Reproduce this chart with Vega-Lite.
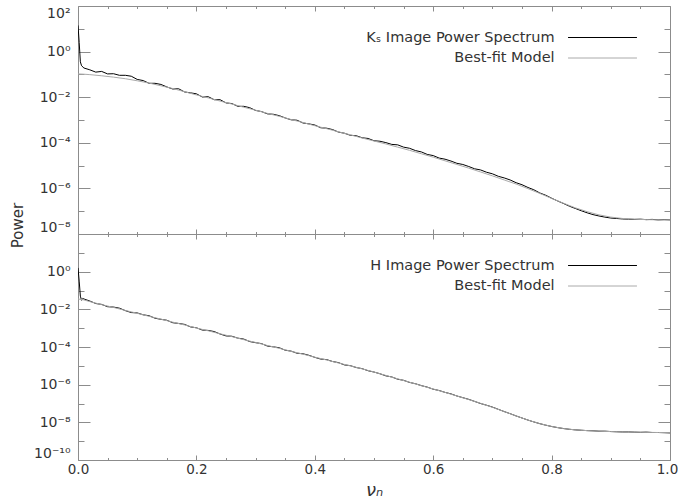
{
  "$schema": "https://vega.github.io/schema/vega-lite/v6.json",
  "padding": {"left": 9, "top": 5, "right": 0, "bottom": 0},
  "spacing": 0,
  "bounds": "flush",
  "config": {
    "font": "DejaVu Sans",
    "view": {"stroke": "#8c8c8c", "strokeWidth": 1},
    "axis": {"domain": false, "grid": false, "tickColor": "#8c8c8c", "tickWidth": 1, "labelColor": "#333333", "labelFontSize": 14, "titleFontWeight": "normal", "titleColor": "#333333", "titleFontSize": 15},
    "legend": {"labelColor": "#333333", "labelFontSize": 14.5, "labelLimit": 0, "padding": 0}
  },
  "datasets": {
    "top": [
      {"series": "Kₛ Image Power Spectrum", "v": 0, "p": 14.1},
      {"series": "Kₛ Image Power Spectrum", "v": 0.002, "p": 2.51},
      {"series": "Kₛ Image Power Spectrum", "v": 0.004, "p": 0.355},
      {"series": "Kₛ Image Power Spectrum", "v": 0.006, "p": 0.24},
      {"series": "Kₛ Image Power Spectrum", "v": 0.01, "p": 0.191},
      {"series": "Kₛ Image Power Spectrum", "v": 0.02, "p": 0.1585},
      {"series": "Kₛ Image Power Spectrum", "v": 0.03, "p": 0.126},
      {"series": "Kₛ Image Power Spectrum", "v": 0.04, "p": 0.135},
      {"series": "Kₛ Image Power Spectrum", "v": 0.05, "p": 0.105},
      {"series": "Kₛ Image Power Spectrum", "v": 0.06, "p": 0.107},
      {"series": "Kₛ Image Power Spectrum", "v": 0.07, "p": 0.0912},
      {"series": "Kₛ Image Power Spectrum", "v": 0.08, "p": 0.0912},
      {"series": "Kₛ Image Power Spectrum", "v": 0.09, "p": 0.0832},
      {"series": "Kₛ Image Power Spectrum", "v": 0.10, "p": 0.0603},
      {"series": "Kₛ Image Power Spectrum", "v": 0.11, "p": 0.0537},
      {"series": "Kₛ Image Power Spectrum", "v": 0.12, "p": 0.0407},
      {"series": "Kₛ Image Power Spectrum", "v": 0.13, "p": 0.0407},
      {"series": "Kₛ Image Power Spectrum", "v": 0.14, "p": 0.0363},
      {"series": "Kₛ Image Power Spectrum", "v": 0.15, "p": 0.0282},
      {"series": "Kₛ Image Power Spectrum", "v": 0.16, "p": 0.0229},
      {"series": "Kₛ Image Power Spectrum", "v": 0.17, "p": 0.0234},
      {"series": "Kₛ Image Power Spectrum", "v": 0.18, "p": 0.0170},
      {"series": "Kₛ Image Power Spectrum", "v": 0.19, "p": 0.0155},
      {"series": "Kₛ Image Power Spectrum", "v": 0.20, "p": 0.0141},
      {"series": "Kₛ Image Power Spectrum", "v": 0.21, "p": 0.0102},
      {"series": "Kₛ Image Power Spectrum", "v": 0.22, "p": 0.0105},
      {"series": "Kₛ Image Power Spectrum", "v": 0.23, "p": 0.00776},
      {"series": "Kₛ Image Power Spectrum", "v": 0.24, "p": 0.00776},
      {"series": "Kₛ Image Power Spectrum", "v": 0.25, "p": 0.00562},
      {"series": "Kₛ Image Power Spectrum", "v": 0.26, "p": 0.00525},
      {"series": "Kₛ Image Power Spectrum", "v": 0.27, "p": 0.00398},
      {"series": "Kₛ Image Power Spectrum", "v": 0.28, "p": 0.00398},
      {"series": "Kₛ Image Power Spectrum", "v": 0.29, "p": 0.00347},
      {"series": "Kₛ Image Power Spectrum", "v": 0.30, "p": 0.00263},
      {"series": "Kₛ Image Power Spectrum", "v": 0.31, "p": 0.00234},
      {"series": "Kₛ Image Power Spectrum", "v": 0.32, "p": 0.00186},
      {"series": "Kₛ Image Power Spectrum", "v": 0.33, "p": 0.00178},
      {"series": "Kₛ Image Power Spectrum", "v": 0.34, "p": 0.00155},
      {"series": "Kₛ Image Power Spectrum", "v": 0.35, "p": 0.00123},
      {"series": "Kₛ Image Power Spectrum", "v": 0.36, "p": 0.00102},
      {"series": "Kₛ Image Power Spectrum", "v": 0.37, "p": 9.77e-4},
      {"series": "Kₛ Image Power Spectrum", "v": 0.38, "p": 7.41e-4},
      {"series": "Kₛ Image Power Spectrum", "v": 0.39, "p": 6.76e-4},
      {"series": "Kₛ Image Power Spectrum", "v": 0.40, "p": 6.03e-4},
      {"series": "Kₛ Image Power Spectrum", "v": 0.41, "p": 4.57e-4},
      {"series": "Kₛ Image Power Spectrum", "v": 0.42, "p": 4.37e-4},
      {"series": "Kₛ Image Power Spectrum", "v": 0.43, "p": 3.80e-4},
      {"series": "Kₛ Image Power Spectrum", "v": 0.44, "p": 2.95e-4},
      {"series": "Kₛ Image Power Spectrum", "v": 0.45, "p": 2.63e-4},
      {"series": "Kₛ Image Power Spectrum", "v": 0.46, "p": 2.14e-4},
      {"series": "Kₛ Image Power Spectrum", "v": 0.47, "p": 2.04e-4},
      {"series": "Kₛ Image Power Spectrum", "v": 0.48, "p": 1.66e-4},
      {"series": "Kₛ Image Power Spectrum", "v": 0.49, "p": 1.55e-4},
      {"series": "Kₛ Image Power Spectrum", "v": 0.50, "p": 1.23e-4},
      {"series": "Kₛ Image Power Spectrum", "v": 0.51, "p": 1.17e-4},
      {"series": "Kₛ Image Power Spectrum", "v": 0.52, "p": 1.02e-4},
      {"series": "Kₛ Image Power Spectrum", "v": 0.53, "p": 8.51e-5},
      {"series": "Kₛ Image Power Spectrum", "v": 0.54, "p": 8.13e-5},
      {"series": "Kₛ Image Power Spectrum", "v": 0.55, "p": 6.46e-5},
      {"series": "Kₛ Image Power Spectrum", "v": 0.56, "p": 5.75e-5},
      {"series": "Kₛ Image Power Spectrum", "v": 0.57, "p": 4.57e-5},
      {"series": "Kₛ Image Power Spectrum", "v": 0.58, "p": 3.98e-5},
      {"series": "Kₛ Image Power Spectrum", "v": 0.59, "p": 3.09e-5},
      {"series": "Kₛ Image Power Spectrum", "v": 0.60, "p": 2.75e-5},
      {"series": "Kₛ Image Power Spectrum", "v": 0.61, "p": 2.14e-5},
      {"series": "Kₛ Image Power Spectrum", "v": 0.62, "p": 1.91e-5},
      {"series": "Kₛ Image Power Spectrum", "v": 0.63, "p": 1.585e-5},
      {"series": "Kₛ Image Power Spectrum", "v": 0.64, "p": 1.26e-5},
      {"series": "Kₛ Image Power Spectrum", "v": 0.65, "p": 1.12e-5},
      {"series": "Kₛ Image Power Spectrum", "v": 0.66, "p": 9.12e-6},
      {"series": "Kₛ Image Power Spectrum", "v": 0.67, "p": 7.24e-6},
      {"series": "Kₛ Image Power Spectrum", "v": 0.68, "p": 6.46e-6},
      {"series": "Kₛ Image Power Spectrum", "v": 0.69, "p": 5.13e-6},
      {"series": "Kₛ Image Power Spectrum", "v": 0.70, "p": 4.37e-6},
      {"series": "Kₛ Image Power Spectrum", "v": 0.71, "p": 3.39e-6},
      {"series": "Kₛ Image Power Spectrum", "v": 0.72, "p": 2.88e-6},
      {"series": "Kₛ Image Power Spectrum", "v": 0.73, "p": 2.34e-6},
      {"series": "Kₛ Image Power Spectrum", "v": 0.74, "p": 1.78e-6},
      {"series": "Kₛ Image Power Spectrum", "v": 0.75, "p": 1.45e-6},
      {"series": "Kₛ Image Power Spectrum", "v": 0.76, "p": 1.10e-6},
      {"series": "Kₛ Image Power Spectrum", "v": 0.77, "p": 8.71e-7},
      {"series": "Kₛ Image Power Spectrum", "v": 0.78, "p": 6.31e-7},
      {"series": "Kₛ Image Power Spectrum", "v": 0.79, "p": 5.01e-7},
      {"series": "Kₛ Image Power Spectrum", "v": 0.80, "p": 3.72e-7},
      {"series": "Kₛ Image Power Spectrum", "v": 0.81, "p": 2.82e-7},
      {"series": "Kₛ Image Power Spectrum", "v": 0.82, "p": 2.19e-7},
      {"series": "Kₛ Image Power Spectrum", "v": 0.83, "p": 1.66e-7},
      {"series": "Kₛ Image Power Spectrum", "v": 0.84, "p": 1.32e-7},
      {"series": "Kₛ Image Power Spectrum", "v": 0.85, "p": 1.05e-7},
      {"series": "Kₛ Image Power Spectrum", "v": 0.86, "p": 8.51e-8},
      {"series": "Kₛ Image Power Spectrum", "v": 0.87, "p": 7.08e-8},
      {"series": "Kₛ Image Power Spectrum", "v": 0.88, "p": 6.17e-8},
      {"series": "Kₛ Image Power Spectrum", "v": 0.89, "p": 5.50e-8},
      {"series": "Kₛ Image Power Spectrum", "v": 0.90, "p": 5.01e-8},
      {"series": "Kₛ Image Power Spectrum", "v": 0.91, "p": 4.79e-8},
      {"series": "Kₛ Image Power Spectrum", "v": 0.92, "p": 4.57e-8},
      {"series": "Kₛ Image Power Spectrum", "v": 0.93, "p": 4.47e-8},
      {"series": "Kₛ Image Power Spectrum", "v": 0.94, "p": 4.37e-8},
      {"series": "Kₛ Image Power Spectrum", "v": 0.95, "p": 4.47e-8},
      {"series": "Kₛ Image Power Spectrum", "v": 0.96, "p": 4.27e-8},
      {"series": "Kₛ Image Power Spectrum", "v": 0.97, "p": 4.37e-8},
      {"series": "Kₛ Image Power Spectrum", "v": 0.98, "p": 4.17e-8},
      {"series": "Kₛ Image Power Spectrum", "v": 0.99, "p": 4.27e-8},
      {"series": "Kₛ Image Power Spectrum", "v": 1.00, "p": 4.17e-8},
      {"series": "Best-fit Model", "v": 0, "p": 0.105},
      {"series": "Best-fit Model", "v": 0.01, "p": 0.102},
      {"series": "Best-fit Model", "v": 0.02, "p": 0.0977},
      {"series": "Best-fit Model", "v": 0.04, "p": 0.0871},
      {"series": "Best-fit Model", "v": 0.06, "p": 0.0759},
      {"series": "Best-fit Model", "v": 0.08, "p": 0.0646},
      {"series": "Best-fit Model", "v": 0.10, "p": 0.0525},
      {"series": "Best-fit Model", "v": 0.12, "p": 0.0417},
      {"series": "Best-fit Model", "v": 0.14, "p": 0.0316},
      {"series": "Best-fit Model", "v": 0.16, "p": 0.0240},
      {"series": "Best-fit Model", "v": 0.18, "p": 0.0174},
      {"series": "Best-fit Model", "v": 0.20, "p": 0.0126},
      {"series": "Best-fit Model", "v": 0.22, "p": 0.00933},
      {"series": "Best-fit Model", "v": 0.24, "p": 0.00676},
      {"series": "Best-fit Model", "v": 0.26, "p": 0.00501},
      {"series": "Best-fit Model", "v": 0.28, "p": 0.00363},
      {"series": "Best-fit Model", "v": 0.30, "p": 0.00269},
      {"series": "Best-fit Model", "v": 0.32, "p": 0.00195},
      {"series": "Best-fit Model", "v": 0.34, "p": 0.00145},
      {"series": "Best-fit Model", "v": 0.36, "p": 0.00105},
      {"series": "Best-fit Model", "v": 0.38, "p": 7.76e-4},
      {"series": "Best-fit Model", "v": 0.40, "p": 5.62e-4},
      {"series": "Best-fit Model", "v": 0.42, "p": 4.17e-4},
      {"series": "Best-fit Model", "v": 0.44, "p": 3.02e-4},
      {"series": "Best-fit Model", "v": 0.46, "p": 2.24e-4},
      {"series": "Best-fit Model", "v": 0.48, "p": 1.62e-4},
      {"series": "Best-fit Model", "v": 0.50, "p": 1.20e-4},
      {"series": "Best-fit Model", "v": 0.52, "p": 8.91e-5},
      {"series": "Best-fit Model", "v": 0.54, "p": 6.46e-5},
      {"series": "Best-fit Model", "v": 0.56, "p": 4.68e-5},
      {"series": "Best-fit Model", "v": 0.58, "p": 3.31e-5},
      {"series": "Best-fit Model", "v": 0.60, "p": 2.34e-5},
      {"series": "Best-fit Model", "v": 0.62, "p": 1.62e-5},
      {"series": "Best-fit Model", "v": 0.64, "p": 1.12e-5},
      {"series": "Best-fit Model", "v": 0.66, "p": 7.76e-6},
      {"series": "Best-fit Model", "v": 0.68, "p": 5.25e-6},
      {"series": "Best-fit Model", "v": 0.70, "p": 3.55e-6},
      {"series": "Best-fit Model", "v": 0.72, "p": 2.34e-6},
      {"series": "Best-fit Model", "v": 0.74, "p": 1.55e-6},
      {"series": "Best-fit Model", "v": 0.76, "p": 9.77e-7},
      {"series": "Best-fit Model", "v": 0.78, "p": 6.03e-7},
      {"series": "Best-fit Model", "v": 0.80, "p": 3.63e-7},
      {"series": "Best-fit Model", "v": 0.82, "p": 2.24e-7},
      {"series": "Best-fit Model", "v": 0.84, "p": 1.41e-7},
      {"series": "Best-fit Model", "v": 0.86, "p": 9.55e-8},
      {"series": "Best-fit Model", "v": 0.88, "p": 6.92e-8},
      {"series": "Best-fit Model", "v": 0.90, "p": 5.50e-8},
      {"series": "Best-fit Model", "v": 0.92, "p": 4.79e-8},
      {"series": "Best-fit Model", "v": 0.94, "p": 4.47e-8},
      {"series": "Best-fit Model", "v": 0.96, "p": 4.27e-8},
      {"series": "Best-fit Model", "v": 0.98, "p": 4.17e-8},
      {"series": "Best-fit Model", "v": 1.00, "p": 4.17e-8}
    ],
    "bottom": [
      {"series": "H Image Power Spectrum", "v": 0, "p": 1.585},
      {"series": "H Image Power Spectrum", "v": 0.002, "p": 0.316},
      {"series": "H Image Power Spectrum", "v": 0.004, "p": 0.0501},
      {"series": "H Image Power Spectrum", "v": 0.006, "p": 0.0302},
      {"series": "H Image Power Spectrum", "v": 0.008, "p": 0.0380},
      {"series": "H Image Power Spectrum", "v": 0.01, "p": 0.0355},
      {"series": "H Image Power Spectrum", "v": 0.02, "p": 0.0275},
      {"series": "H Image Power Spectrum", "v": 0.03, "p": 0.0204},
      {"series": "H Image Power Spectrum", "v": 0.04, "p": 0.0182},
      {"series": "H Image Power Spectrum", "v": 0.05, "p": 0.0138},
      {"series": "H Image Power Spectrum", "v": 0.06, "p": 0.0132},
      {"series": "H Image Power Spectrum", "v": 0.07, "p": 0.0115},
      {"series": "H Image Power Spectrum", "v": 0.08, "p": 0.00851},
      {"series": "H Image Power Spectrum", "v": 0.09, "p": 0.00676},
      {"series": "H Image Power Spectrum", "v": 0.10, "p": 0.00646},
      {"series": "H Image Power Spectrum", "v": 0.11, "p": 0.00513},
      {"series": "H Image Power Spectrum", "v": 0.12, "p": 0.00457},
      {"series": "H Image Power Spectrum", "v": 0.13, "p": 0.00339},
      {"series": "H Image Power Spectrum", "v": 0.14, "p": 0.00295},
      {"series": "H Image Power Spectrum", "v": 0.15, "p": 0.00263},
      {"series": "H Image Power Spectrum", "v": 0.16, "p": 0.00195},
      {"series": "H Image Power Spectrum", "v": 0.17, "p": 0.00178},
      {"series": "H Image Power Spectrum", "v": 0.18, "p": 0.001585},
      {"series": "H Image Power Spectrum", "v": 0.19, "p": 0.00117},
      {"series": "H Image Power Spectrum", "v": 0.20, "p": 0.00105},
      {"series": "H Image Power Spectrum", "v": 0.21, "p": 7.94e-4},
      {"series": "H Image Power Spectrum", "v": 0.22, "p": 7.59e-4},
      {"series": "H Image Power Spectrum", "v": 0.23, "p": 6.61e-4},
      {"series": "H Image Power Spectrum", "v": 0.24, "p": 4.90e-4},
      {"series": "H Image Power Spectrum", "v": 0.25, "p": 3.89e-4},
      {"series": "H Image Power Spectrum", "v": 0.26, "p": 3.72e-4},
      {"series": "H Image Power Spectrum", "v": 0.27, "p": 2.95e-4},
      {"series": "H Image Power Spectrum", "v": 0.28, "p": 2.63e-4},
      {"series": "H Image Power Spectrum", "v": 0.29, "p": 1.95e-4},
      {"series": "H Image Power Spectrum", "v": 0.30, "p": 1.70e-4},
      {"series": "H Image Power Spectrum", "v": 0.31, "p": 1.51e-4},
      {"series": "H Image Power Spectrum", "v": 0.32, "p": 1.12e-4},
      {"series": "H Image Power Spectrum", "v": 0.33, "p": 1.02e-4},
      {"series": "H Image Power Spectrum", "v": 0.34, "p": 9.12e-5},
      {"series": "H Image Power Spectrum", "v": 0.35, "p": 6.76e-5},
      {"series": "H Image Power Spectrum", "v": 0.36, "p": 6.03e-5},
      {"series": "H Image Power Spectrum", "v": 0.37, "p": 4.68e-5},
      {"series": "H Image Power Spectrum", "v": 0.38, "p": 4.37e-5},
      {"series": "H Image Power Spectrum", "v": 0.39, "p": 3.63e-5},
      {"series": "H Image Power Spectrum", "v": 0.40, "p": 2.82e-5},
      {"series": "H Image Power Spectrum", "v": 0.41, "p": 2.29e-5},
      {"series": "H Image Power Spectrum", "v": 0.42, "p": 2.14e-5},
      {"series": "H Image Power Spectrum", "v": 0.43, "p": 1.70e-5},
      {"series": "H Image Power Spectrum", "v": 0.44, "p": 1.48e-5},
      {"series": "H Image Power Spectrum", "v": 0.45, "p": 1.12e-5},
      {"series": "H Image Power Spectrum", "v": 0.46, "p": 1.02e-5},
      {"series": "H Image Power Spectrum", "v": 0.47, "p": 8.13e-6},
      {"series": "H Image Power Spectrum", "v": 0.48, "p": 7.08e-6},
      {"series": "H Image Power Spectrum", "v": 0.49, "p": 5.50e-6},
      {"series": "H Image Power Spectrum", "v": 0.50, "p": 4.68e-6},
      {"series": "H Image Power Spectrum", "v": 0.51, "p": 3.80e-6},
      {"series": "H Image Power Spectrum", "v": 0.52, "p": 2.95e-6},
      {"series": "H Image Power Spectrum", "v": 0.53, "p": 2.57e-6},
      {"series": "H Image Power Spectrum", "v": 0.54, "p": 1.95e-6},
      {"series": "H Image Power Spectrum", "v": 0.55, "p": 1.70e-6},
      {"series": "H Image Power Spectrum", "v": 0.56, "p": 1.32e-6},
      {"series": "H Image Power Spectrum", "v": 0.57, "p": 1.12e-6},
      {"series": "H Image Power Spectrum", "v": 0.58, "p": 8.91e-7},
      {"series": "H Image Power Spectrum", "v": 0.59, "p": 7.41e-7},
      {"series": "H Image Power Spectrum", "v": 0.60, "p": 5.75e-7},
      {"series": "H Image Power Spectrum", "v": 0.61, "p": 4.90e-7},
      {"series": "H Image Power Spectrum", "v": 0.62, "p": 3.89e-7},
      {"series": "H Image Power Spectrum", "v": 0.63, "p": 3.24e-7},
      {"series": "H Image Power Spectrum", "v": 0.64, "p": 2.51e-7},
      {"series": "H Image Power Spectrum", "v": 0.65, "p": 2.04e-7},
      {"series": "H Image Power Spectrum", "v": 0.66, "p": 1.66e-7},
      {"series": "H Image Power Spectrum", "v": 0.67, "p": 1.29e-7},
      {"series": "H Image Power Spectrum", "v": 0.68, "p": 1.00e-7},
      {"series": "H Image Power Spectrum", "v": 0.69, "p": 8.13e-8},
      {"series": "H Image Power Spectrum", "v": 0.70, "p": 6.46e-8},
      {"series": "H Image Power Spectrum", "v": 0.71, "p": 4.90e-8},
      {"series": "H Image Power Spectrum", "v": 0.72, "p": 3.72e-8},
      {"series": "H Image Power Spectrum", "v": 0.73, "p": 2.88e-8},
      {"series": "H Image Power Spectrum", "v": 0.74, "p": 2.19e-8},
      {"series": "H Image Power Spectrum", "v": 0.75, "p": 1.70e-8},
      {"series": "H Image Power Spectrum", "v": 0.76, "p": 1.32e-8},
      {"series": "H Image Power Spectrum", "v": 0.77, "p": 1.05e-8},
      {"series": "H Image Power Spectrum", "v": 0.78, "p": 8.51e-9},
      {"series": "H Image Power Spectrum", "v": 0.79, "p": 7.08e-9},
      {"series": "H Image Power Spectrum", "v": 0.80, "p": 6.03e-9},
      {"series": "H Image Power Spectrum", "v": 0.81, "p": 5.25e-9},
      {"series": "H Image Power Spectrum", "v": 0.82, "p": 4.68e-9},
      {"series": "H Image Power Spectrum", "v": 0.83, "p": 4.27e-9},
      {"series": "H Image Power Spectrum", "v": 0.84, "p": 3.98e-9},
      {"series": "H Image Power Spectrum", "v": 0.85, "p": 3.80e-9},
      {"series": "H Image Power Spectrum", "v": 0.86, "p": 3.63e-9},
      {"series": "H Image Power Spectrum", "v": 0.87, "p": 3.55e-9},
      {"series": "H Image Power Spectrum", "v": 0.88, "p": 3.39e-9},
      {"series": "H Image Power Spectrum", "v": 0.89, "p": 3.39e-9},
      {"series": "H Image Power Spectrum", "v": 0.90, "p": 3.24e-9},
      {"series": "H Image Power Spectrum", "v": 0.91, "p": 3.16e-9},
      {"series": "H Image Power Spectrum", "v": 0.92, "p": 3.09e-9},
      {"series": "H Image Power Spectrum", "v": 0.93, "p": 3.09e-9},
      {"series": "H Image Power Spectrum", "v": 0.94, "p": 3.02e-9},
      {"series": "H Image Power Spectrum", "v": 0.95, "p": 2.95e-9},
      {"series": "H Image Power Spectrum", "v": 0.96, "p": 3.02e-9},
      {"series": "H Image Power Spectrum", "v": 0.97, "p": 2.88e-9},
      {"series": "H Image Power Spectrum", "v": 0.98, "p": 2.88e-9},
      {"series": "H Image Power Spectrum", "v": 0.99, "p": 2.82e-9},
      {"series": "H Image Power Spectrum", "v": 1.00, "p": 2.75e-9},
      {"series": "Best-fit Model", "v": 0, "p": 0.0355},
      {"series": "Best-fit Model", "v": 0.01, "p": 0.0316},
      {"series": "Best-fit Model", "v": 0.02, "p": 0.0257},
      {"series": "Best-fit Model", "v": 0.04, "p": 0.0178},
      {"series": "Best-fit Model", "v": 0.06, "p": 0.0126},
      {"series": "Best-fit Model", "v": 0.08, "p": 0.00871},
      {"series": "Best-fit Model", "v": 0.10, "p": 0.00617},
      {"series": "Best-fit Model", "v": 0.12, "p": 0.00427},
      {"series": "Best-fit Model", "v": 0.14, "p": 0.00302},
      {"series": "Best-fit Model", "v": 0.16, "p": 0.00209},
      {"series": "Best-fit Model", "v": 0.18, "p": 0.00148},
      {"series": "Best-fit Model", "v": 0.20, "p": 0.00102},
      {"series": "Best-fit Model", "v": 0.22, "p": 7.24e-4},
      {"series": "Best-fit Model", "v": 0.24, "p": 5.01e-4},
      {"series": "Best-fit Model", "v": 0.26, "p": 3.55e-4},
      {"series": "Best-fit Model", "v": 0.28, "p": 2.45e-4},
      {"series": "Best-fit Model", "v": 0.30, "p": 1.74e-4},
      {"series": "Best-fit Model", "v": 0.32, "p": 1.20e-4},
      {"series": "Best-fit Model", "v": 0.34, "p": 8.51e-5},
      {"series": "Best-fit Model", "v": 0.36, "p": 5.89e-5},
      {"series": "Best-fit Model", "v": 0.38, "p": 4.17e-5},
      {"series": "Best-fit Model", "v": 0.40, "p": 2.88e-5},
      {"series": "Best-fit Model", "v": 0.42, "p": 2.04e-5},
      {"series": "Best-fit Model", "v": 0.44, "p": 1.41e-5},
      {"series": "Best-fit Model", "v": 0.46, "p": 1.00e-5},
      {"series": "Best-fit Model", "v": 0.48, "p": 6.92e-6},
      {"series": "Best-fit Model", "v": 0.50, "p": 4.68e-6},
      {"series": "Best-fit Model", "v": 0.52, "p": 3.09e-6},
      {"series": "Best-fit Model", "v": 0.54, "p": 2.04e-6},
      {"series": "Best-fit Model", "v": 0.56, "p": 1.35e-6},
      {"series": "Best-fit Model", "v": 0.58, "p": 8.91e-7},
      {"series": "Best-fit Model", "v": 0.60, "p": 5.89e-7},
      {"series": "Best-fit Model", "v": 0.62, "p": 3.89e-7},
      {"series": "Best-fit Model", "v": 0.64, "p": 2.51e-7},
      {"series": "Best-fit Model", "v": 0.66, "p": 1.62e-7},
      {"series": "Best-fit Model", "v": 0.68, "p": 1.02e-7},
      {"series": "Best-fit Model", "v": 0.70, "p": 6.31e-8},
      {"series": "Best-fit Model", "v": 0.72, "p": 3.72e-8},
      {"series": "Best-fit Model", "v": 0.74, "p": 2.19e-8},
      {"series": "Best-fit Model", "v": 0.76, "p": 1.32e-8},
      {"series": "Best-fit Model", "v": 0.78, "p": 8.51e-9},
      {"series": "Best-fit Model", "v": 0.80, "p": 6.03e-9},
      {"series": "Best-fit Model", "v": 0.82, "p": 4.68e-9},
      {"series": "Best-fit Model", "v": 0.84, "p": 3.98e-9},
      {"series": "Best-fit Model", "v": 0.86, "p": 3.63e-9},
      {"series": "Best-fit Model", "v": 0.88, "p": 3.39e-9},
      {"series": "Best-fit Model", "v": 0.90, "p": 3.24e-9},
      {"series": "Best-fit Model", "v": 0.92, "p": 3.09e-9},
      {"series": "Best-fit Model", "v": 0.94, "p": 3.02e-9},
      {"series": "Best-fit Model", "v": 0.96, "p": 2.95e-9},
      {"series": "Best-fit Model", "v": 0.98, "p": 2.88e-9},
      {"series": "Best-fit Model", "v": 1.00, "p": 2.82e-9}
    ]
  },
  "vconcat": [
    {
      "width": 592,
      "height": 228,
      "data": {"name": "top"},
      "layer": [
        {
          "mark": {"type": "line", "strokeWidth": 1, "clip": true},
          "encoding": {
            "x": {"field": "v", "type": "quantitative", "scale": {"domain": [0, 1], "nice": false, "zero": false},
              "axis": {"orient": "bottom", "title": null, "labels": false, "values": [0,0.05,0.1,0.15,0.2,0.25,0.3,0.35,0.4,0.45,0.5,0.55,0.6,0.65,0.7,0.75,0.8,0.85,0.9,0.95,1],
                "tickSize": {"condition": {"test": "round(datum.value*20)%4==0", "value": -5}, "value": -2.5}}},
            "y": {"field": "p", "type": "quantitative", "scale": {"type": "log", "domain": [1e-8, 100], "nice": false},
              "axis": {"orient": "left", "values": [1e-8,1e-7,1e-6,1e-5,1e-4,1e-3,1e-2,1e-1,1,10,100],
                "labelExpr": "['10⁻¹⁰','','10⁻⁸','','10⁻⁶','','10⁻⁴','','10⁻²','','10⁰','','10²'][round(log(datum.value)/LN10)+10]",
                "labelFlush": true, "labelPadding": 20,
                "tickSize": {"condition": {"test": "abs(round(log(datum.value)/LN10))%2==0", "value": -12}, "value": -6},
                "title": "Power", "titleX": -61, "titleY": 219, "titleAngle": -90, "titleAlign": "center", "titleBaseline": "middle"}},
            "color": {"field": "series", "type": "nominal",
              "scale": {"domain": ["Kₛ Image Power Spectrum", "Best-fit Model"], "range": ["#000000", "#aaaaaa"]},
              "legend": {"orient": "none", "legendX": 517, "legendY": 24, "direction": "vertical", "title": null, "symbolType": "M-5,0H5", "symbolSize": 190, "symbolStrokeWidth": 1, "labelAlign": "right", "labelOffset": -55.4, "rowPadding": 5.5}}
          }
        },
        {
          "mark": {"type": "line", "strokeOpacity": 0},
          "encoding": {
            "x": {"field": "v", "type": "quantitative", "scale": {"domain": [0, 1], "nice": false, "zero": false},
              "axis": {"orient": "top", "title": null, "labels": false, "values": [0,0.05,0.1,0.15,0.2,0.25,0.3,0.35,0.4,0.45,0.5,0.55,0.6,0.65,0.7,0.75,0.8,0.85,0.9,0.95,1],
                "tickSize": {"condition": {"test": "round(datum.value*20)%4==0", "value": -5}, "value": -2.5}}},
            "y": {"field": "p", "type": "quantitative", "scale": {"type": "log", "domain": [1e-8, 100], "nice": false},
              "axis": {"orient": "right", "title": null, "labels": false, "values": [1e-8,1e-7,1e-6,1e-5,1e-4,1e-3,1e-2,1e-1,1,10,100],
                "tickSize": {"condition": {"test": "abs(round(log(datum.value)/LN10))%2==0", "value": -12}, "value": -6}}},
            "detail": {"field": "series"}
          }
        }
      ],
      "resolve": {"axis": {"x": "independent", "y": "independent"}}
    },
    {
      "width": 592,
      "height": 226,
      "data": {"name": "bottom"},
      "layer": [
        {
          "mark": {"type": "line", "strokeWidth": 1, "clip": true},
          "encoding": {
            "x": {"field": "v", "type": "quantitative", "scale": {"domain": [0, 1], "nice": false, "zero": false},
              "axis": {"orient": "bottom", "values": [0,0.05,0.1,0.15,0.2,0.25,0.3,0.35,0.4,0.45,0.5,0.55,0.6,0.65,0.7,0.75,0.8,0.85,0.9,0.95,1],
                "labelExpr": "round(datum.value*20)%4==0 ? format(datum.value, '.1f') : ''", "labelFlush": false, "labelPadding": 7, "labelFontSize": 13.5,
                "labelOffset": {"condition": {"test": "datum.value > 0.99", "value": -3}, "value": 0},
                "tickSize": {"condition": {"test": "round(datum.value*20)%4==0", "value": -5}, "value": -2.5},
                "title": "νₙ", "titleFontStyle": "italic", "titleFontSize": 18, "titlePadding": 6}},
            "y": {"field": "p", "type": "quantitative", "scale": {"type": "log", "domain": [1e-10, 100], "nice": false},
              "axis": {"orient": "left", "values": [1e-10,1e-9,1e-8,1e-7,1e-6,1e-5,1e-4,1e-3,1e-2,1e-1,1,10,100],
                "labelExpr": "['10⁻¹⁰','','10⁻⁸','','10⁻⁶','','10⁻⁴','','10⁻²','','10⁰','',''][round(log(datum.value)/LN10)+10]",
                "labelFlush": true, "labelPadding": 20, "title": null,
                "tickSize": {"condition": {"test": "abs(round(log(datum.value)/LN10))%2==0", "value": -12}, "value": -6}}},
            "color": {"field": "series", "type": "nominal",
              "scale": {"domain": ["H Image Power Spectrum", "Best-fit Model"], "range": ["#000000", "#aaaaaa"]},
              "legend": {"orient": "none", "legendX": 517, "legendY": 24, "direction": "vertical", "title": null, "symbolType": "M-5,0H5", "symbolSize": 190, "symbolStrokeWidth": 1, "labelAlign": "right", "labelOffset": -55.4, "rowPadding": 5.5}}
          }
        },
        {
          "mark": {"type": "line", "strokeOpacity": 0},
          "encoding": {
            "x": {"field": "v", "type": "quantitative", "scale": {"domain": [0, 1], "nice": false, "zero": false},
              "axis": {"orient": "top", "title": null, "labels": false, "values": [0,0.05,0.1,0.15,0.2,0.25,0.3,0.35,0.4,0.45,0.5,0.55,0.6,0.65,0.7,0.75,0.8,0.85,0.9,0.95,1],
                "tickSize": {"condition": {"test": "round(datum.value*20)%4==0", "value": -5}, "value": -2.5}}},
            "y": {"field": "p", "type": "quantitative", "scale": {"type": "log", "domain": [1e-10, 100], "nice": false},
              "axis": {"orient": "right", "title": null, "labels": false, "values": [1e-10,1e-9,1e-8,1e-7,1e-6,1e-5,1e-4,1e-3,1e-2,1e-1,1,10,100],
                "tickSize": {"condition": {"test": "abs(round(log(datum.value)/LN10))%2==0", "value": -12}, "value": -6}}},
            "detail": {"field": "series"}
          }
        }
      ],
      "resolve": {"axis": {"x": "independent", "y": "independent"}}
    }
  ],
  "resolve": {"scale": {"color": "independent", "y": "independent", "x": "independent"}, "legend": {"color": "independent"}}
}
